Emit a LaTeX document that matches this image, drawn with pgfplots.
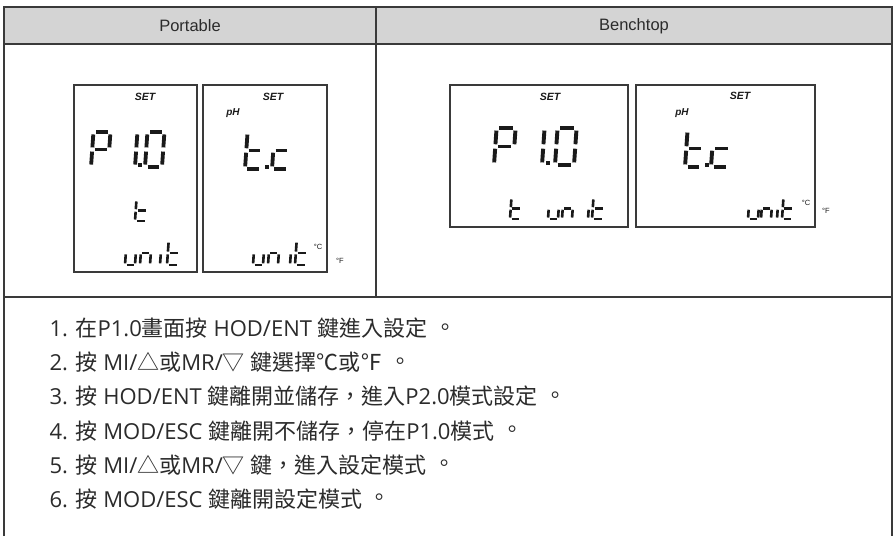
\documentclass[border=0pt]{standalone}
\usepackage{pgfplots}
\pgfplotsset{compat=1.18}
\usepackage{fontspec}
\setmainfont{Liberation Sans}
\newfontfamily\cjk[Script=CJK,Language=Chinese Traditional]{Noto Sans CJK TC}
\newfontfamily\lat{Open Sans}
\definecolor{headgray}{HTML}{D4D4D4}
\definecolor{tline}{HTML}{3A3A3A}
\definecolor{lcd}{HTML}{1A1A1A}
\definecolor{txt}{HTML}{2B2B2B}
\def\slantk{0.07}
\newcommand\La[1]{{\lat #1}}
\newcommand\Pd{\makebox[1em][l]{\hspace{0.3em}\rlap{\raisebox{0.06em}{。}}}}
\makeatletter
\newcommand\SL[9]{%
  \pgfmathsetmacro\xa{#1+(#5)*#3+\slantk*#4*(1-(#6))}%
  \pgfmathsetmacro\ya{#2+(#6)*#4}%
  \pgfmathsetmacro\xb{#1+(#7)*#3+\slantk*#4*(1-(#8))}%
  \pgfmathsetmacro\yb{#2+(#8)*#4}%
  \edef\lcdtmp{\noexpand\draw[line width=#9pt,color=lcd] (axis cs:\xa,\ya) -- (axis cs:\xb,\yb);}\lcdtmp}
\newcommand\Dig[6]{%
  \in@{a}{#6}\ifin@\SL{#1}{#2}{#3}{#4}{0.15}{0}{0.85}{0}{#5}\fi
  \in@{b}{#6}\ifin@\SL{#1}{#2}{#3}{#4}{1}{0.07}{1}{0.44}{#5}\fi
  \in@{c}{#6}\ifin@\SL{#1}{#2}{#3}{#4}{1}{0.56}{1}{0.93}{#5}\fi
  \in@{d}{#6}\ifin@\SL{#1}{#2}{#3}{#4}{0.15}{1}{0.85}{1}{#5}\fi
  \in@{e}{#6}\ifin@\SL{#1}{#2}{#3}{#4}{0}{0.56}{0}{0.93}{#5}\fi
  \in@{f}{#6}\ifin@\SL{#1}{#2}{#3}{#4}{0}{0.07}{0}{0.44}{#5}\fi
  \in@{g}{#6}\ifin@\SL{#1}{#2}{#3}{#4}{0.15}{0.5}{0.85}{0.5}{#5}\fi}
\newcommand\DP[3]{%
  \pgfmathsetmacro\xb{#1+#3}\pgfmathsetmacro\yb{#2+#3}%
  \edef\lcdtmp{\noexpand\fill[lcd] (axis cs:#1,#2) rectangle (axis cs:\xb,\yb);}\lcdtmp}
\makeatother
\begin{document}
\begin{tikzpicture}
\begin{axis}[x=1pt,y=1pt,xmin=0,xmax=895,ymin=0,ymax=536,y dir=reverse,
  hide axis,clip=false,scale only axis]
% background
\addplot[fill=white,draw=none] coordinates {(0,0)(895,0)(895,536)(0,536)} -- cycle;
% header
\addplot[fill=headgray,draw=none] coordinates {(4,7)(892,7)(892,44)(4,44)} -- cycle;
% table lines
\addplot[tline,line width=2pt] coordinates {(4,536)(4,7)(892,7)(892,536)};
\addplot[tline,line width=1.6pt] coordinates {(4,44)(892,44)};
\addplot[tline,line width=1.6pt] coordinates {(376,7)(376,297)};
\addplot[tline,line width=1.6pt] coordinates {(4,297)(892,297)};
% LCD boxes
\addplot[tline,line width=1.6pt] coordinates {(74,85)(197,85)(197,272)(74,272)} -- cycle;
\addplot[tline,line width=1.6pt] coordinates {(203,85)(327,85)(327,272)(203,272)} -- cycle;
\addplot[tline,line width=1.6pt] coordinates {(450,85)(628,85)(628,227)(450,227)} -- cycle;
\addplot[tline,line width=1.6pt] coordinates {(636,85)(815,85)(815,227)(636,227)} -- cycle;
% header text
\node[txt,font=\fontsize{16.5}{18}\selectfont] at (axis cs:190,26) {Portable};
\node[txt,font=\fontsize{16.5}{18}\selectfont] at (axis cs:634,26) {Benchtop};
% SET / pH labels
\node[lcd,font=\fontsize{10.5}{12}\selectfont\bfseries\itshape] at (axis cs:145,97) {SET};
\node[lcd,font=\fontsize{10.5}{12}\selectfont\bfseries\itshape] at (axis cs:273,97) {SET};
\node[lcd,font=\fontsize{10}{12}\selectfont\bfseries\itshape] at (axis cs:233,113) {pH};
\node[lcd,font=\fontsize{10.5}{12}\selectfont\bfseries\itshape] at (axis cs:550,97) {SET};
\node[lcd,font=\fontsize{10.5}{12}\selectfont\bfseries\itshape] at (axis cs:740,96) {SET};
\node[lcd,font=\fontsize{10}{12}\selectfont\bfseries\itshape] at (axis cs:682,113) {pH};
\node[lcd,font=\fontsize{7.5}{9}\selectfont] at (axis cs:318,247) {°C};
\node[lcd,font=\fontsize{7.5}{9}\selectfont] at (axis cs:340,261) {°F};
\node[lcd,font=\fontsize{7.5}{9}\selectfont] at (axis cs:806,203) {°C};
\node[lcd,font=\fontsize{7.5}{9}\selectfont] at (axis cs:826,211) {°F};
% Portable box 1 : P 1.0 / t / unit
\Dig{91}{132}{17}{35}{3.8}{abfeg}
\Dig{118}{132}{17}{35}{3.8}{bc}
\DP{138}{163}{4}
\Dig{145}{132}{17}{35}{3.8}{abcdef}
\Dig{135}{200}{12}{21}{2.6}{fegd}
\Dig{125}{241}{10}{24}{2.6}{ecd}
\Dig{140}{241}{10}{24}{2.6}{gec}
\Dig{160}{241}{10}{24}{2.6}{e}
\Dig{167}{241}{12}{24}{2.6}{fegd}
% Portable box 2 : t.c / unit
\Dig{245}{132}{16}{37}{3.8}{fegd}
\DP{265}{165}{4}
\Dig{272}{132}{16}{37}{3.8}{ged}
\Dig{253}{241}{10}{24}{2.6}{ecd}
\Dig{268}{241}{10}{24}{2.6}{gec}
\Dig{290}{241}{10}{24}{2.6}{e}
\Dig{295}{241}{12}{24}{2.6}{fegd}
% Benchtop box 1 : P 1.0 / t unit
\Dig{494}{128}{19}{37}{3.9}{abfeg}
\Dig{523}{128}{19}{37}{3.9}{bc}
\DP{546}{161}{4}
\Dig{555}{128}{19}{37}{3.9}{abcdef}
\Dig{510}{198}{11}{21}{2.6}{fegd}
\Dig{548}{198}{10}{21}{2.6}{ecd}
\Dig{562}{198}{10}{21}{2.6}{gec}
\Dig{588}{198}{10}{21}{2.6}{e}
\Dig{592}{198}{12}{21}{2.6}{fegd}
% Benchtop box 2 : t.c / unit
\Dig{685}{130}{17}{37}{3.9}{fegd}
\DP{705}{163}{4}
\Dig{711}{130}{18}{37}{3.9}{ged}
\Dig{748}{198}{10}{21}{2.6}{ecd}
\Dig{761}{198}{10}{21}{2.6}{gec}
\Dig{777}{198}{10}{21}{2.6}{e}
\Dig{782}{198}{11}{21}{2.6}{fegd}
% instructions
\node[txt,anchor=base west,font=\cjk\fontsize{22}{26}\selectfont] at (axis cs:46,337) {\La{1. }在\La{P1.0}畫面按\La{ HOD/ENT }鍵進入設定\Pd};
\node[txt,anchor=base west,font=\cjk\fontsize{22}{26}\selectfont] at (axis cs:46,371) {\La{2. }按\La{ MI/}△或\La{MR/}▽\La{ }鍵選擇℃或℉\Pd};
\node[txt,anchor=base west,font=\cjk\fontsize{22}{26}\selectfont] at (axis cs:46,405) {\La{3. }按\La{ HOD/ENT }鍵離開並儲存，進入\La{P2.0}模式設定\Pd};
\node[txt,anchor=base west,font=\cjk\fontsize{22}{26}\selectfont] at (axis cs:46,439) {\La{4. }按\La{ MOD/ESC }鍵離開不儲存，停在\La{P1.0}模式\Pd};
\node[txt,anchor=base west,font=\cjk\fontsize{22}{26}\selectfont] at (axis cs:46,473) {\La{5. }按\La{ MI/}△或\La{MR/}▽\La{ }鍵，進入設定模式\Pd};
\node[txt,anchor=base west,font=\cjk\fontsize{22}{26}\selectfont] at (axis cs:46,507) {\La{6. }按\La{ MOD/ESC }鍵離開設定模式\Pd};
\end{axis}
\end{tikzpicture}
\end{document}
